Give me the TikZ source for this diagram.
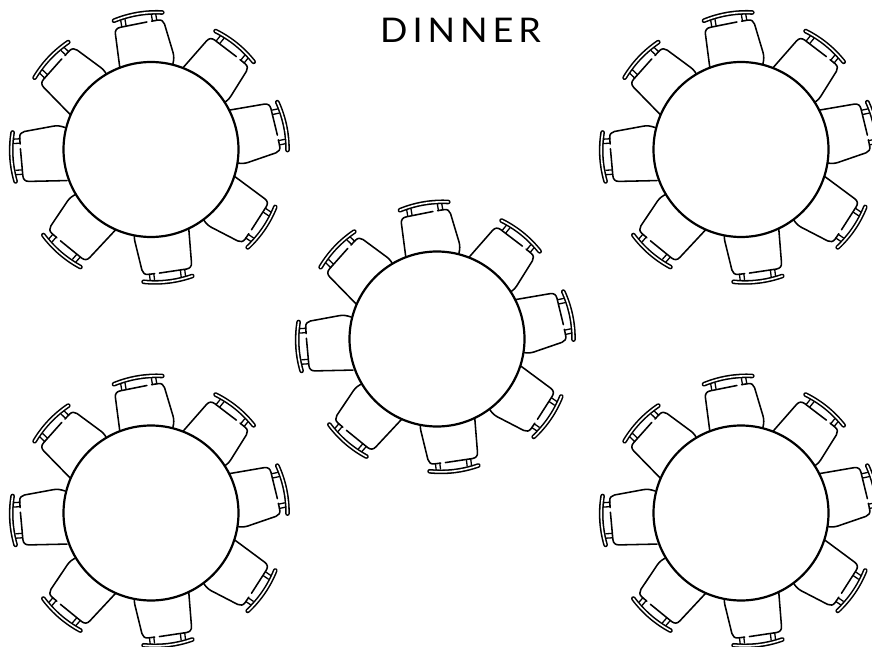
\documentclass[tikz,border=0pt]{standalone}
\usepackage{fontspec}
\setmainfont{Lato}
\newfontfamily\titlefont[LetterSpace=14.5,FakeStretch=1.06]{Lato}
\tikzset{
  x=1pt,y=1pt,
  seatline/.style={black,line width=1.55pt,line cap=round,line join=round},
  postline/.style={black,line width=1.3pt},
  tabletop/.style={draw=black,fill=white,line width=2.2pt,circle,inner sep=0pt,minimum size=175pt},
}
\newcommand{\onechair}{%
  % seat
  \draw[seatline] (-26.8,-52) -- (-25.3,-14) .. controls (-25.1,-10) and (-23,-8.4) .. (-19.5,-8.2)
     -- (7.8,-7.4);
  \draw[seatline] (12.5,-7.4) -- (19,-7.4) .. controls (22.5,-7.4) and (24.3,-9.4) .. (24.8,-12.5)
     -- (28.4,-42) .. controls (28.8,-46) and (28,-49) .. (26.4,-53);
  % posts
  \draw[postline] (-17.8,-1) -- (-17.8,-8) (-13.4,-1) -- (-13.4,-8);
  \draw[postline] (13.4,-1) -- (13.4,-8) (17.8,-1) -- (17.8,-8);
  % back
  \draw[black,line width=4.7pt,line cap=round] (-24.5,-0.6) .. controls (-8,3) and (8,3) .. (24.5,-0.6);
  \draw[white,line width=1.6pt,line cap=round] (-24.5,-0.6) .. controls (-8,3) and (8,3) .. (24.5,-0.6);
}
\newcommand{\onetable}[3]{%
  \begin{scope}[shift={(#1,646-#2)}]
    \foreach \cx/\cy/\cr in {-13/133.5/9.7, 84/103.5/-39, 132/23.5/-78, 111/-78/-124.3,
                             17/-130/186.8, -89.5/-102/139.2, -137.5/-7.5/93.5, -100/90/46.6}{
      \begin{scope}[shift={(\cx,\cy)},rotate=\cr]
        \onechair
      \end{scope}
    }
    \node[tabletop] (#3) at (0,0) {};
  \end{scope}
}
\begin{document}
\begin{tikzpicture}
  \useasboundingbox (0,0) rectangle (872,646);
  \onetable{151}{149.5}{tableA}
  \onetable{741}{149.5}{tableB}
  \onetable{437}{339}{tableC}
  \onetable{151}{513}{tableD}
  \onetable{741}{513}{tableE}
  \node[anchor=center,inner sep=0pt] (title) at (460.5,646-30) {\titlefont\fontsize{34}{36}\selectfont DINNER};
\end{tikzpicture}
\end{document}
